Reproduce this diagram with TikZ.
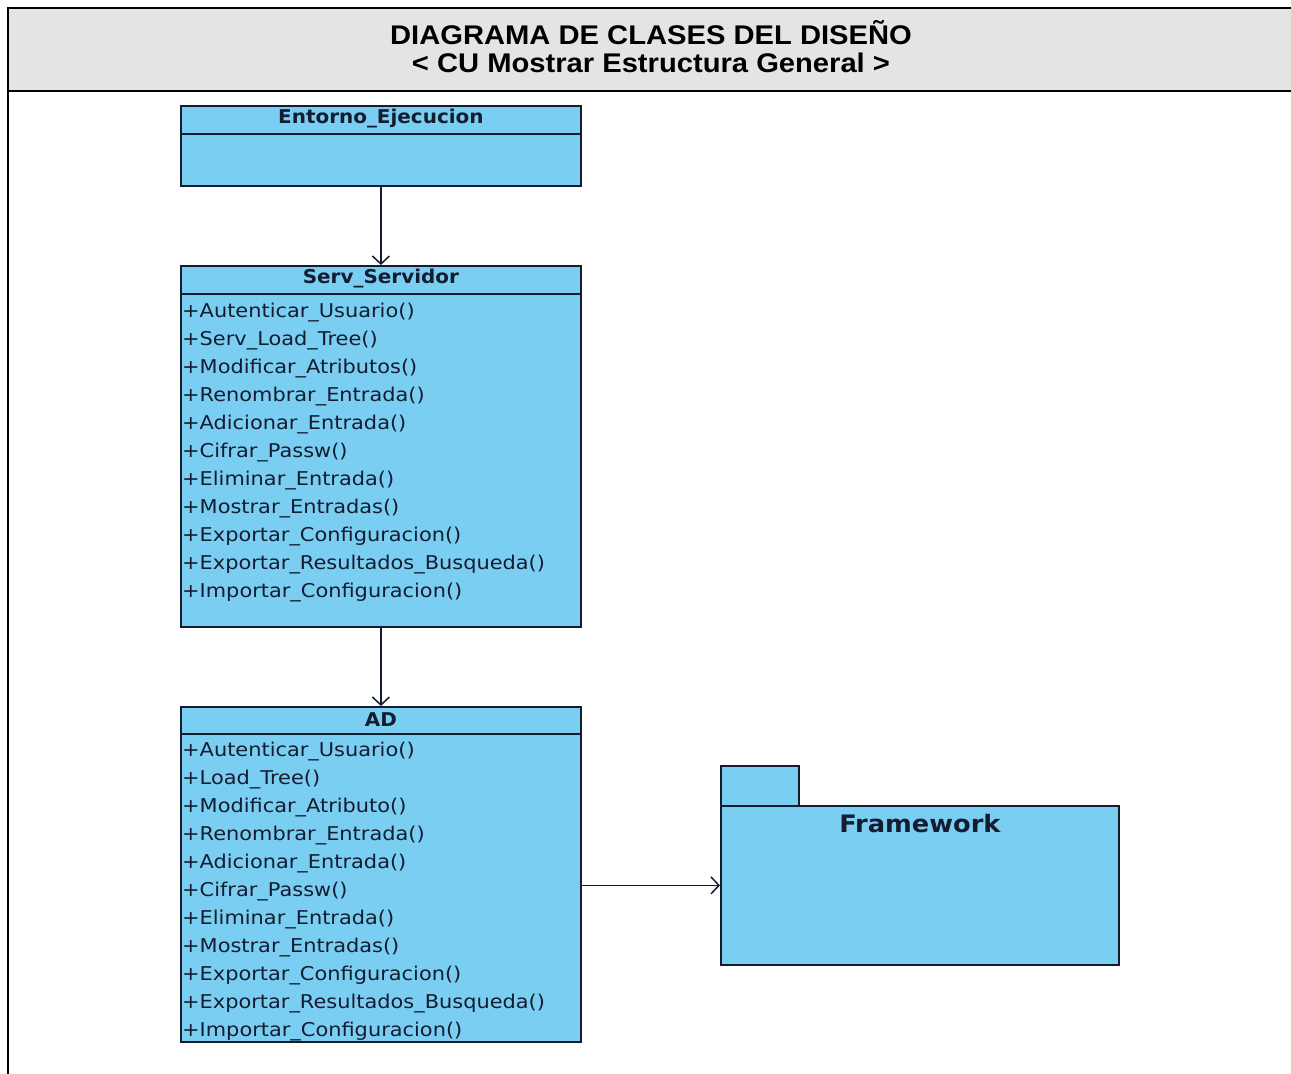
\documentclass[tikz,border=0pt]{standalone}
\usepackage{fontspec}
\setmainfont{Liberation Sans}
\newfontfamily\umlfont{DejaVu Sans}
\usetikzlibrary{arrows.meta,calc}
\definecolor{umlfill}{RGB}{122,206,242}
\definecolor{umlink}{RGB}{20,28,48}
\definecolor{headgray}{RGB}{228,228,228}
\newcommand\hstretch[2]{\scalebox{#1}[1]{#2}}

\begin{document}
\begin{tikzpicture}[x=1pt,y=-1pt,
  classbox/.style={draw=umlink, fill=umlfill, line width=1.8pt, inner sep=0pt,
    minimum width=400pt, anchor=north west},
  pkgbox/.style={draw=umlink, fill=umlfill, line width=1.8pt, inner sep=0pt, anchor=north west},
  sepline/.style={draw=umlink, line width=1.6pt},
  clsname/.style={text=umlink, font=\umlfont\bfseries\fontsize{19}{21}\selectfont, inner sep=0pt},
  method/.style={text=umlink, font=\umlfont\fontsize{19}{21}\selectfont, inner sep=0pt, anchor=west},
  assoc/.style={draw=umlink, line width=1.6pt, -{Straight Barb[length=8pt,width=17pt,line width=1.5pt]}},
  frame/.style={draw=black, line width=2pt},
  title/.style={font=\bfseries\fontsize{27}{30}\selectfont, inner sep=0pt}
]
\useasboundingbox (0,0) rectangle (1291,1074);

% header band with the title
\fill[headgray] (8,8) rectangle (1291,91);
\draw[frame] (8,1074) -- (8,8) -- (1291,8);
\draw[frame] (8,91) -- (1291,91);
\node[title] (t1) at (651,33) {\hstretch{1.08}{DIAGRAMA DE CLASES DEL DISEÑO}};
\node[title] (t2) at (651,63) {\hstretch{1.08}{< CU Mostrar Estructura General >}};

% class Entorno_Ejecucion
\node[classbox, minimum height=80pt] (ent) at (180,105) {};
\draw[sepline] ($(ent.north west)+(0,29)$) -- ($(ent.north east)+(0,29)$);
\node[clsname] (entn) at ($(ent.north)+(0,14)$) {\hstretch{1.05}{Entorno\_Ejecucion}};

% class Serv_Servidor
\node[classbox, minimum height=361pt] (srv) at (180,265) {};
\draw[sepline] ($(srv.north west)+(0,29)$) -- ($(srv.north east)+(0,29)$);
\node[clsname] (srvn) at ($(srv.north)+(0,14)$) {\hstretch{1.05}{Serv\_Servidor}};
\foreach \m [count=\i from 0] in {Autenticar\_Usuario(), Serv\_Load\_Tree(),
  Modificar\_Atributos(), Renombrar\_Entrada(), Adicionar\_Entrada(),
  Cifrar\_Passw(), Eliminar\_Entrada(), Mostrar\_Entradas(),
  Exportar\_Configuracion(), Exportar\_Resultados\_Busqueda(),
  Importar\_Configuracion()}
  \node[method] (srvm\i) at ($(srv.north west)+(2,48+28*\i)$) {\hstretch{1.1}{+\m}};

% class AD
\node[classbox, minimum height=335pt] (ad) at (180,706) {};
\draw[sepline] ($(ad.north west)+(0,28)$) -- ($(ad.north east)+(0,28)$);
\node[clsname] (adn) at ($(ad.north)+(0,14)$) {\hstretch{1.05}{AD}};
\foreach \m [count=\i from 0] in {Autenticar\_Usuario(), Load\_Tree(),
  Modificar\_Atributo(), Renombrar\_Entrada(), Adicionar\_Entrada(),
  Cifrar\_Passw(), Eliminar\_Entrada(), Mostrar\_Entradas(),
  Exportar\_Configuracion(), Exportar\_Resultados\_Busqueda(),
  Importar\_Configuracion()}
  \node[method] (adm\i) at ($(ad.north west)+(2,46+28*\i)$) {\hstretch{1.1}{+\m}};

% package Framework
\node[pkgbox, minimum width=78pt, minimum height=40pt] (fwtab) at (720,765) {};
\node[pkgbox, minimum width=398pt, minimum height=159pt] (fw) at (720,805) {};
\node[clsname, font=\umlfont\bfseries\fontsize{24}{26}\selectfont] (fwn)
  at ($(fw.north)+(0,19)$) {\hstretch{1.07}{Framework}};

% associations
\draw[assoc] (ent.south) -- (srv.north);
\draw[assoc] (srv.south) -- (ad.north);
\draw[assoc] (ad.east |- fw.west) -- (fw.west);
\end{tikzpicture}
\end{document}
